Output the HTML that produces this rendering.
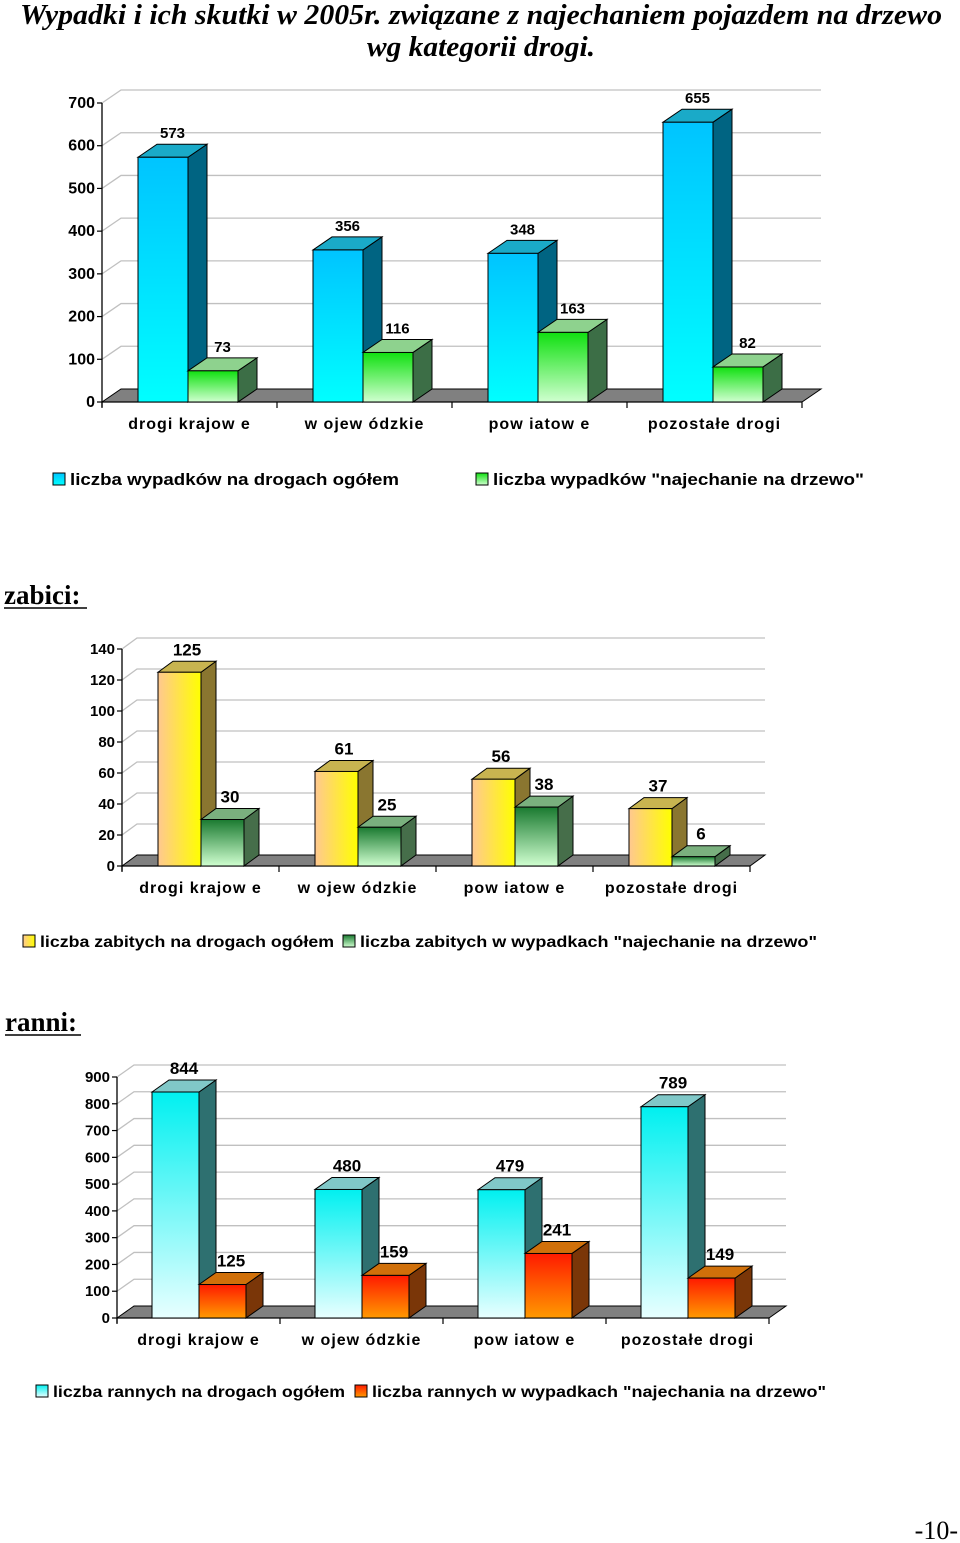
<!DOCTYPE html>
<html><head><meta charset="utf-8"><style>
html,body{margin:0;padding:0;background:#fff;}
svg{display:block;font-family:"Liberation Sans",Arial,sans-serif;}
</style></head><body>
<svg id="s" width="960" height="1543" viewBox="0 0 960 1543" xmlns="http://www.w3.org/2000/svg">
<defs>
<linearGradient id="gBlue" x1="0" y1="0" x2="0" y2="1"><stop offset="0" stop-color="#00c4ff"/><stop offset="1" stop-color="#00ffff"/></linearGradient>
<linearGradient id="gGreen1" x1="0" y1="0" x2="0" y2="1"><stop offset="0" stop-color="#10e010"/><stop offset="1" stop-color="#d0ffd0"/></linearGradient>
<linearGradient id="gYellow" x1="0" y1="0" x2="1" y2="0"><stop offset="0" stop-color="#ffc890"/><stop offset="1" stop-color="#ffff00"/></linearGradient>
<linearGradient id="gGreen2" x1="0" y1="0" x2="0" y2="1"><stop offset="0" stop-color="#1a7a30"/><stop offset="1" stop-color="#d0ffd0"/></linearGradient>
<linearGradient id="gCyan" x1="0" y1="0" x2="0" y2="1"><stop offset="0" stop-color="#00f0f0"/><stop offset="1" stop-color="#e8ffff"/></linearGradient>
<linearGradient id="gOrange" x1="0" y1="0" x2="0" y2="1"><stop offset="0" stop-color="#ff1a00"/><stop offset="1" stop-color="#ff9a00"/></linearGradient>
</defs>
<text x="481" y="24" text-anchor="middle" font-family="Liberation Serif, serif" font-weight="bold" font-style="italic" font-size="29" textLength="922" lengthAdjust="spacingAndGlyphs">Wypadki i ich skutki w 2005r.  związane z najechaniem pojazdem na drzewo</text>
<text x="481" y="56" text-anchor="middle" font-family="Liberation Serif, serif" font-weight="bold" font-style="italic" font-size="29" textLength="228" lengthAdjust="spacingAndGlyphs">wg kategorii drogi.</text>
<text x="4" y="604" font-family="Liberation Serif, serif" font-weight="bold" font-size="27">zabici:</text>
<line x1="4" y1="608" x2="87" y2="608" stroke="#000" stroke-width="1.5"/>
<text x="5" y="1031" font-family="Liberation Serif, serif" font-weight="bold" font-size="27">ranni:</text>
<line x1="5" y1="1035" x2="81" y2="1035" stroke="#000" stroke-width="1.5"/>
<text x="958" y="1539" text-anchor="end" font-family="Liberation Serif, serif" font-size="26">-10-</text>
</svg>
<script>
var categories = ["drogi krajowe", "wojewódzkie", "powiatowe", "pozostałe drogi"];
var categoryLabels = ["drogi krajow e", "w ojew ódzkie", "pow iatow e", "pozostałe drogi"];
var accidentsTotal = [573, 356, 348, 655];
var accidentsTree = [73, 116, 163, 82];
var killedTotal = [125, 61, 56, 37];
var killedTree = [30, 25, 38, 6];
var injuredTotal = [844, 480, 479, 789];
var injuredTree = [125, 159, 241, 149];
var ticks1 = [0, 100, 200, 300, 400, 500, 600, 700];
var ticks2 = [0, 20, 40, 60, 80, 100, 120, 140];
var ticks3 = [0, 100, 200, 300, 400, 500, 600, 700, 800, 900];
var legend1 = ["liczba wypadków na drogach ogółem", "liczba wypadków \"najechanie na drzewo\""];
var legend2 = ["liczba zabitych na drogach ogółem", "liczba zabitych w wypadkach \"najechanie na drzewo\""];
var legend3 = ["liczba rannych na drogach ogółem", "liczba rannych w wypadkach \"najechania na drzewo\""];

var NS = "http://www.w3.org/2000/svg";
var svg = document.getElementById("s");
function mk(tag, attrs, parent) {
  var e = document.createElementNS(NS, tag);
  for (var k in attrs) e.setAttribute(k, attrs[k]);
  (parent || svg).appendChild(e);
  return e;
}

function drawChart(cfg, s1, s2, ticks, legend, prefix) {
  var g = mk("g", {});
  
  
  var max = ticks[ticks.length - 1];
  var xEnd = cfg.x0 + cfg.cat * categories.length;
  function y(v) { return cfg.y0 - v / max * cfg.h; }
  for (var i = 1; i < ticks.length; i++) {
    var yy = y(ticks[i]);
    var gl = mk("polyline", {points: cfg.x0 + "," + yy + " " + (cfg.x0 + cfg.dx) + "," + (yy - cfg.dy) + " " + (xEnd + cfg.dx) + "," + (yy - cfg.dy), fill: "none", stroke: "#c0c0c0", "stroke-width": 1.3}, g);
    
    
  }
  var fl = mk("polygon", {points: cfg.x0 + "," + cfg.y0 + " " + (cfg.x0 + cfg.dx) + "," + (cfg.y0 - cfg.dy) + " " + (xEnd + cfg.dx) + "," + (cfg.y0 - cfg.dy) + " " + xEnd + "," + cfg.y0, fill: "#808080", stroke: "#000", "stroke-width": 1}, g);
  
  
  var ax = mk("line", {x1: cfg.x0, y1: y(max), x2: cfg.x0, y2: cfg.y0 + 5, stroke: "#000", "stroke-width": 1.3}, g);
  
  
  var bx = mk("line", {x1: cfg.x0, y1: cfg.y0, x2: xEnd, y2: cfg.y0, stroke: "#000", "stroke-width": 1.3}, g);
  
  
  for (var i = 0; i < ticks.length; i++) {
    var yy = y(ticks[i]);
    mk("line", {x1: cfg.x0 - 5, y1: yy, x2: cfg.x0, y2: yy, stroke: "#000", "stroke-width": 1.2}, g);
    var t = mk("text", {x: cfg.x0 - 7, y: yy + 5, "text-anchor": "end", "font-size": cfg.fs, "font-weight": "bold"}, g);
    
    
    t.textContent = ticks[i];
  }
  for (var c = 0; c <= categories.length; c++) {
    var xx = cfg.x0 + c * cfg.cat;
    mk("line", {x1: xx, y1: cfg.y0, x2: xx, y2: cfg.y0 + 6, stroke: "#000", "stroke-width": 1.2}, g);
  }
  function bar(x, v, front, side, top, name) {
    var bg = mk("g", {}, g);
    
    
    var yt = y(v), w = cfg.bw, dx = cfg.dx, dy = cfg.dy;
    mk("polygon", {points: (x + w) + "," + yt + " " + (x + w + dx) + "," + (yt - dy) + " " + (x + w + dx) + "," + (cfg.y0 - dy) + " " + (x + w) + "," + cfg.y0, fill: side, stroke: "#000", "stroke-width": 1}, bg);
    mk("polygon", {points: x + "," + yt + " " + (x + dx) + "," + (yt - dy) + " " + (x + w + dx) + "," + (yt - dy) + " " + (x + w) + "," + yt, fill: top, stroke: "#000", "stroke-width": 1}, bg);
    mk("rect", {x: x, y: yt, width: w, height: cfg.y0 - yt, fill: front, stroke: "#000", "stroke-width": 1}, bg);
    var lb = mk("text", {x: x + w / 2 + dx / 2, y: yt - dy - 6, "text-anchor": "middle", "font-size": cfg.vfs, "font-weight": "bold"}, g);
    
    
    lb.textContent = v;
  }
  for (var c = 0; c < categories.length; c++) {
    var xs = cfg.x0 + c * cfg.cat + cfg.off;
    bar(xs, s1[c], cfg.c1[0], cfg.c1[1], cfg.c1[2], prefix + '-total-bar-' + (c + 1));
    bar(xs + cfg.bw, s2[c], cfg.c2[0], cfg.c2[1], cfg.c2[2], prefix + '-tree-bar-' + (c + 1));
    var cl = mk("text", {x: cfg.x0 + c * cfg.cat + cfg.cat / 2, y: cfg.y0 + 27, "text-anchor": "middle", "font-size": cfg.cfs, "font-weight": "bold", "letter-spacing": "1"}, g);
    
    
    cl.textContent = categoryLabels[c];
  }
  for (var i = 0; i < 2; i++) {
    var lx = cfg.legX[i];
    var sw = mk("rect", {x: lx, y: cfg.legY - 6, width: 12, height: 12, fill: i == 0 ? cfg.c1[0] : cfg.c2[0], stroke: "#000", "stroke-width": 1}, g);
    
    
    var lt = mk("text", {x: lx + 17, y: cfg.legY + 6, "font-size": cfg.lfs, "font-weight": "bold", textLength: cfg.legW[i], lengthAdjust: "spacingAndGlyphs"}, g);
    
    
    lt.textContent = legend[i];
  }
}

drawChart({x0:102, y0:402, h:299, cat:175, off:36, bw:50, dx:19, dy:13, fs:16, cfs:16, vfs:15,
  c1:["url(#gBlue)", "#006482", "#1aaac8"], c2:["url(#gGreen1)", "#3c6e46", "#8ed28e"],
  legX:[53, 476], legW:[329, 371], legY:479, lfs:17}, accidentsTotal, accidentsTree, ticks1, legend1, "accidents");
drawChart({x0:122, y0:866, h:217, cat:157, off:36, bw:43, dx:15, dy:11, fs:15, cfs:16, vfs:17,
  c1:["url(#gYellow)", "#8a7630", "#c8b450"], c2:["url(#gGreen2)", "#466e4a", "#7ab07e"],
  legX:[23, 343], legW:[294, 457], legY:941, lfs:16}, killedTotal, killedTree, ticks2, legend2, "killed");
drawChart({x0:117, y0:1318, h:241, cat:163, off:35, bw:47, dx:17, dy:12, fs:15, cfs:16, vfs:17,
  c1:["url(#gCyan)", "#2e7070", "#80c8c8"], c2:["url(#gOrange)", "#7a3608", "#d0700a"],
  legX:[36, 355], legW:[292, 454], legY:1391, lfs:16}, injuredTotal, injuredTree, ticks3, legend3, "injured");
</script>
</body></html>
